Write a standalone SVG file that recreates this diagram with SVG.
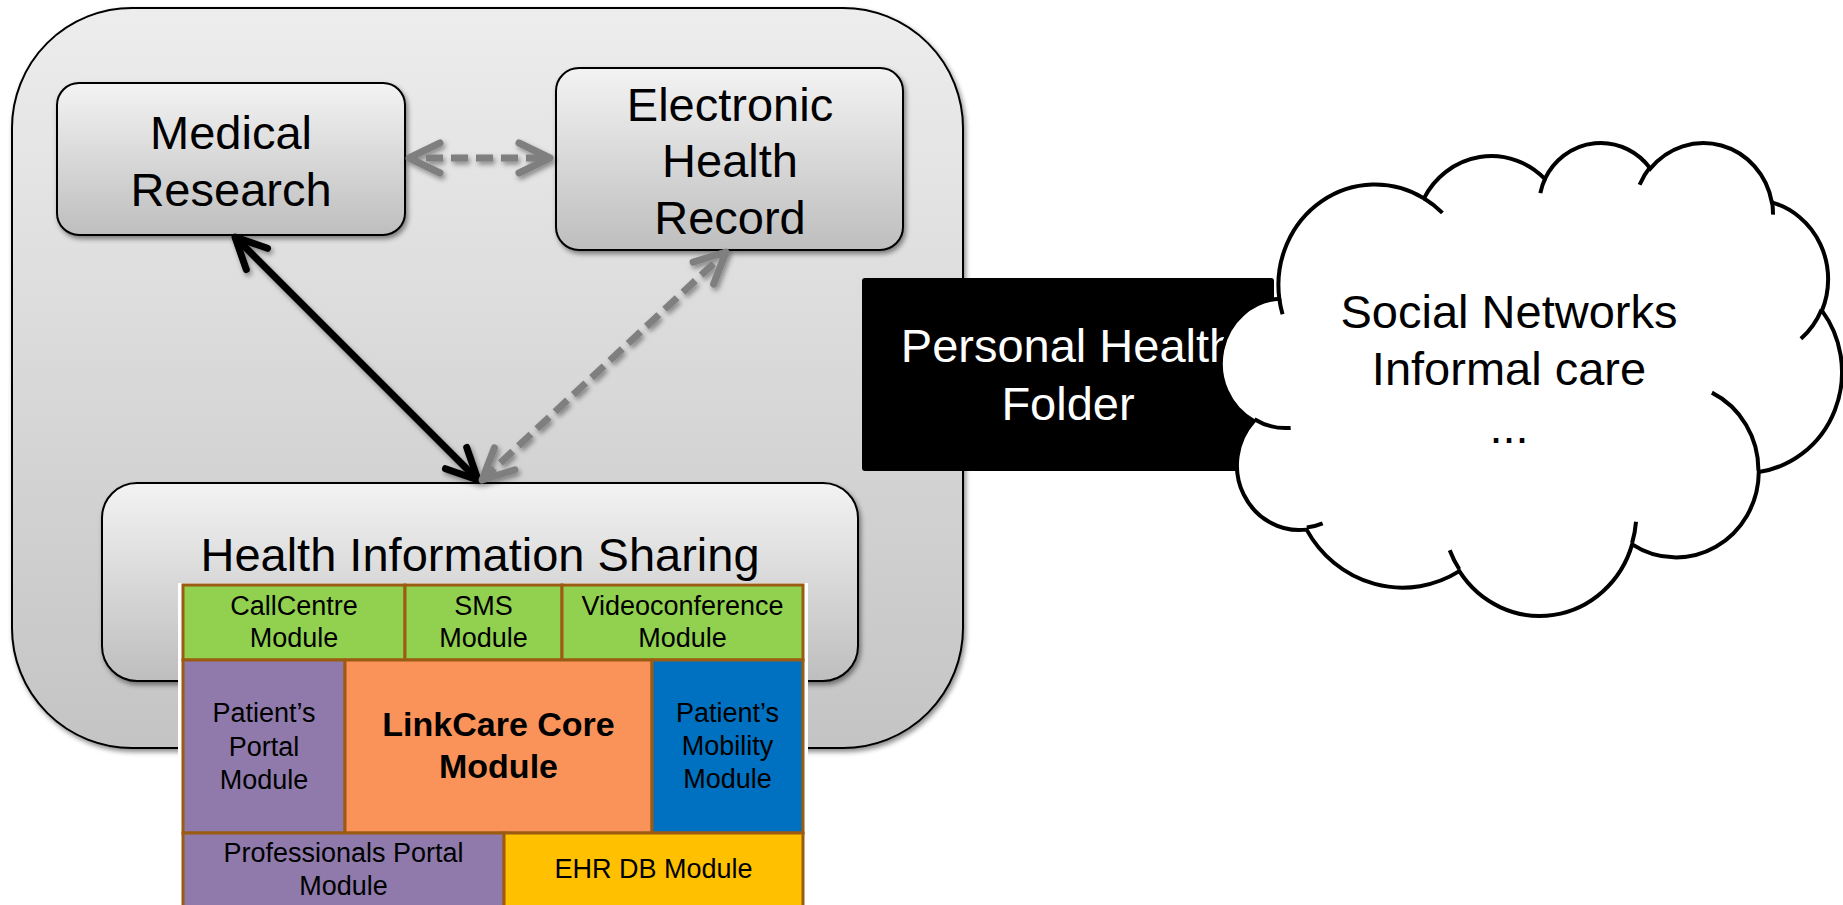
<svg xmlns="http://www.w3.org/2000/svg" width="1843" height="905" viewBox="0 0 1843 905">
<defs>
  <linearGradient id="gOuter" x1="0" y1="0" x2="0" y2="1">
    <stop offset="0" stop-color="#EDEDED"/>
    <stop offset="1" stop-color="#C4C4C4"/>
  </linearGradient>
  <linearGradient id="gBox" x1="0" y1="0" x2="0" y2="1">
    <stop offset="0" stop-color="#F3F3F3"/>
    <stop offset="1" stop-color="#BEBEBE"/>
  </linearGradient>
  <filter id="shadow" x="-10%" y="-10%" width="130%" height="140%">
    <feDropShadow dx="2" dy="3" stdDeviation="2.5" flood-color="#000" flood-opacity="0.45"/>
  </filter>
  <filter id="lineShadow" filterUnits="userSpaceOnUse" x="0" y="0" width="1843" height="905">
    <feDropShadow dx="2" dy="3" stdDeviation="2.5" flood-color="#000" flood-opacity="0.4"/>
  </filter>
  <marker id="headBlack" markerUnits="userSpaceOnUse" orient="auto-start-reverse" refX="0" refY="0" markerWidth="80" markerHeight="80" overflow="visible">
    <path d="M -31 -15 L 0 0 L -31 15" fill="none" stroke="#000" stroke-width="7" stroke-linecap="round" stroke-linejoin="round"/>
  </marker>
  <marker id="headGrey" markerUnits="userSpaceOnUse" orient="auto-start-reverse" refX="0" refY="0" markerWidth="80" markerHeight="80" overflow="visible">
    <path d="M -31 -15 L 0 0 L -31 15" fill="none" stroke="#7F7F7F" stroke-width="7" stroke-linecap="round" stroke-linejoin="round"/>
  </marker>
</defs>
<style>
  .lbl{font-family:"Liberation Sans",Arial,sans-serif;font-size:47px;fill:#000;text-anchor:middle}
  .wlbl{font-family:"Liberation Sans",Arial,sans-serif;font-size:47px;fill:#fff;text-anchor:middle}
  .mod{font-family:"Liberation Sans",Arial,sans-serif;font-size:27px;fill:#000;text-anchor:middle}
  .core{font-family:"Liberation Sans",Arial,sans-serif;font-size:34px;font-weight:bold;fill:#000;text-anchor:middle}
  .cell{stroke:#9C5B13;stroke-width:3}
  .box{fill:url(#gBox);stroke:#000;stroke-width:2;filter:url(#shadow)}
  .solid{fill:none;stroke:#000;stroke-width:7;marker-start:url(#headBlack);marker-end:url(#headBlack)}
  .dashed{fill:none;stroke:#7F7F7F;stroke-width:7;stroke-dasharray:17 8;marker-start:url(#headGrey);marker-end:url(#headGrey)}
  .cloudline{fill:none;stroke:#000;stroke-width:4;vector-effect:non-scaling-stroke}
</style>

<g id="outer-container">
  <rect x="12" y="8" width="951" height="740" rx="120" ry="120" fill="url(#gOuter)" stroke="#000" stroke-width="2" filter="url(#shadow)"/>
</g>

<g id="medical-research">
  <rect class="box" x="57" y="83" width="348" height="152" rx="22" ry="22"/>
  <text class="lbl" x="231" y="149">Medical</text>
  <text class="lbl" x="231" y="206">Research</text>
</g>

<g id="electronic-health-record">
  <rect class="box" x="556" y="68" width="347" height="182" rx="23" ry="23"/>
  <text class="lbl" x="730" y="121">Electronic</text>
  <text class="lbl" x="730" y="177">Health</text>
  <text class="lbl" x="730" y="234">Record</text>
</g>

<g id="health-information-sharing">
  <rect class="box" x="102" y="483" width="756" height="198" rx="35" ry="35"/>
  <text class="lbl" x="480" y="571">Health Information Sharing</text>
</g>

<g id="connectors" filter="url(#lineShadow)">
  <line class="dashed" x1="409" y1="158" x2="550" y2="158" stroke-dashoffset="8"/>
  <line class="solid" x1="235" y1="237" x2="478" y2="480"/>
  <line class="dashed" x1="482" y1="480" x2="726" y2="252"/>
</g>

<g id="modules">
  <rect x="178" y="583" width="630" height="330" fill="#fff"/>
  <g id="callcentre-module">
    <rect class="cell" x="183" y="585" width="222" height="75" fill="#92D050"/>
    <text class="mod" x="294" y="615">CallCentre</text>
    <text class="mod" x="294" y="647">Module</text>
  </g>
  <g id="sms-module">
    <rect class="cell" x="405" y="585" width="157" height="75" fill="#92D050"/>
    <text class="mod" x="483.5" y="615">SMS</text>
    <text class="mod" x="483.5" y="647">Module</text>
  </g>
  <g id="videoconference-module">
    <rect class="cell" x="562" y="585" width="241" height="75" fill="#92D050"/>
    <text class="mod" x="682.5" y="615">Videoconference</text>
    <text class="mod" x="682.5" y="647">Module</text>
  </g>
  <g id="patients-portal-module">
    <rect class="cell" x="183" y="660" width="162" height="173" fill="#8F7AAB"/>
    <text class="mod" x="264" y="722">Patient’s</text>
    <text class="mod" x="264" y="756">Portal</text>
    <text class="mod" x="264" y="789">Module</text>
  </g>
  <g id="linkcare-core-module">
    <rect class="cell" x="345" y="660" width="307" height="173" fill="#F9935A"/>
    <text class="core" x="498.5" y="736">LinkCare Core</text>
    <text class="core" x="498.5" y="778">Module</text>
  </g>
  <g id="patients-mobility-module">
    <rect class="cell" x="652" y="660" width="151" height="173" fill="#0070C0"/>
    <text class="mod" x="727.5" y="722">Patient’s</text>
    <text class="mod" x="727.5" y="755">Mobility</text>
    <text class="mod" x="727.5" y="788">Module</text>
  </g>
  <g id="professionals-portal-module">
    <rect class="cell" x="183" y="833" width="321" height="80" fill="#8F7AAB"/>
    <text class="mod" x="343.5" y="862">Professionals Portal</text>
    <text class="mod" x="343.5" y="895">Module</text>
  </g>
  <g id="ehr-db-module">
    <rect class="cell" x="504" y="833" width="299" height="80" fill="#FFC000"/>
    <text class="mod" x="653.5" y="878">EHR DB Module</text>
  </g>
</g>

<g id="personal-health-folder">
  <rect x="862" y="278" width="412" height="193" rx="3" ry="3" fill="#000"/>
  <text class="wlbl" x="1068" y="362">Personal Health</text>
  <text class="wlbl" x="1068" y="420">Folder</text>
</g>

<g id="social-networks-cloud">
  <g transform="translate(1223.5,141.4) scale(0.01431,0.010945)">
    <path d="M3900 14370 A6753 9190 0 0 1 14006 5203 A5333 7267 0 0 1 22457 3433 A4365 5945 0 0 1 29834 2482 A4857 6595 0 0 1 38319 5577 A5333 7273 0 0 1 41820 15461 A6775 9220 0 0 1 37406 30204 A5785 7867 0 0 1 28557 36814 A6752 9215 0 0 1 16482 39265 A7720 10543 0 0 1 5806 35471 A4360 5918 0 0 1 2115 25550 A4345 5945 0 0 1 3900 14370 Z" fill="#fff" stroke="#000" stroke-width="4" vector-effect="non-scaling-stroke"/>
    <path class="cloudline" d="M4693 26177 A4345 5945 0 0 1 2160 25380 M6928 34899 A4360 5918 0 0 1 5820 35280 M16478 39090 A6752 9215 0 0 1 15810 37350 M28827 34751 A6752 9215 0 0 1 28560 36660 M34129 22954 A5785 7867 0 0 1 37380 30090 M41798 15354 A5333 7273 0 0 1 40350 18030 M38324 5426 A4857 6595 0 0 1 38400 6690 M29078 3952 A4857 6595 0 0 1 29820 2340 M22141 4720 A4365 5945 0 0 1 22505 3318 M14000 5192 A6753 9190 0 0 1 15299 6539 M4127 15789 A6753 9190 0 0 1 3900 14370"/>
  </g>
  <text class="lbl" x="1509" y="328">Social Networks</text>
  <text class="lbl" x="1509" y="385">Informal care</text>
  <text class="lbl" x="1509" y="443">...</text>
</g>
</svg>
